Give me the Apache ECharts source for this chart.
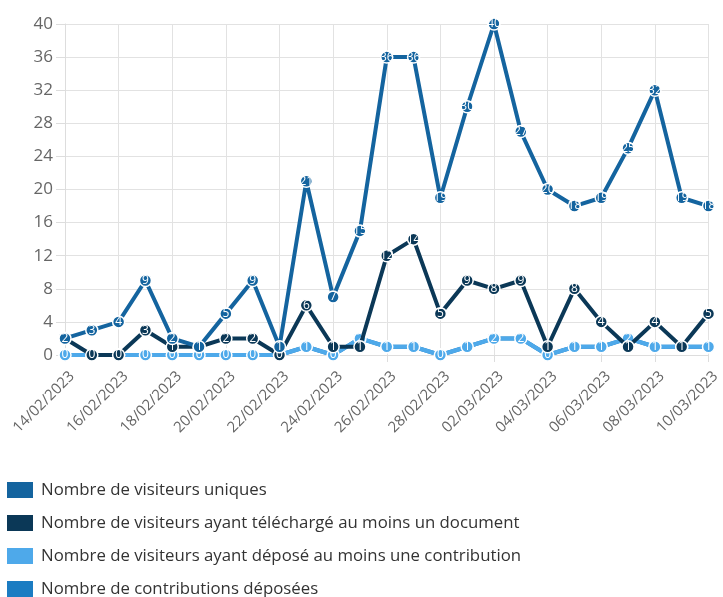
<!DOCTYPE html>
<html>
<head>
<meta charset="utf-8">
<script src="https://cdn.jsdelivr.net/npm/echarts@6/dist/echarts.min.js"></script>
<style>
  html, body { margin: 0; padding: 0; background: #fff; }
  #chart { width: 723px; height: 597px; }
</style>
</head>
<body>
<div id="chart"></div>
<script>
const dates = [
  "14/02/2023", "15/02/2023", "16/02/2023", "17/02/2023", "18/02/2023",
  "19/02/2023", "20/02/2023", "21/02/2023", "22/02/2023", "23/02/2023",
  "24/02/2023", "25/02/2023", "26/02/2023", "27/02/2023", "28/02/2023",
  "01/03/2023", "02/03/2023", "03/03/2023", "04/03/2023", "05/03/2023",
  "06/03/2023", "07/03/2023", "08/03/2023", "09/03/2023", "10/03/2023"
];
const visiteursUniques = [2, 3, 4, 9, 2, 1, 5, 9, 1, 21, 7, 15, 36, 36, 19, 30, 40, 27, 20, 18, 19, 25, 32, 19, 18];
const visiteursTelecharge = [2, 0, 0, 3, 1, 1, 2, 2, 0, 6, 1, 1, 12, 14, 5, 9, 8, 9, 1, 8, 4, 1, 4, 1, 5];
const visiteursDepose = [0, 0, 0, 0, 0, 0, 0, 0, 0, 1, 0, 2, 1, 1, 0, 1, 2, 2, 0, 1, 1, 2, 1, 1, 1];
const contributions = [0, 0, 0, 0, 0, 0, 0, 0, 0, 1, 0, 2, 1, 1, 0, 1, 2, 2, 0, 1, 1, 2, 1, 1, 1];
const yTicks = { min: 0, max: 40, interval: 4 };

const fontFamily = "'Open Sans', 'Noto Sans', sans-serif";

function lineSeries(name, data, color, z) {
  return {
    name: name,
    type: "line",
    data: data,
    z: z,
    symbol: "circle",
    symbolSize: 12,
    showAllSymbol: true,
    lineStyle: { color: color, width: 4 },
    itemStyle: { color: color, borderColor: "#fff", borderWidth: 1.5 },
    label: {
      show: true,
      position: "inside",
      color: "#fff",
      fontSize: 12,
      fontFamily: fontFamily,
    },
    emphasis: { disabled: true },
  };
}

const myChart = echarts.init(document.getElementById("chart"));
const option = {
  animation: false,
  textStyle: { fontFamily: fontFamily },
  grid: {
    left: 65,
    right: 11,
    top: 24,
    bottom: 242,
  },
  legend: {
    orient: "vertical",
    left: 5,
    top: 480,
    height: 140,
    padding: 0,
    icon: "rect",
    itemWidth: 28,
    itemHeight: 18,
    itemGap: 13,
    textStyle: { color: "#333", fontSize: 16.8, lineHeight: 18, fontFamily: fontFamily, padding: [0, 0, 0, 2] },
    data: [
      "Nombre de visiteurs uniques",
      "Nombre de visiteurs ayant téléchargé au moins un document",
      "Nombre de visiteurs ayant déposé au moins une contribution",
      "Nombre de contributions déposées",
    ],
  },
  xAxis: {
    type: "category",
    data: dates,
    boundaryGap: false,
    axisLine: { lineStyle: { color: "#ddd" } },
    axisTick: { show: true, interval: 1, length: 7, lineStyle: { color: "#ddd" } },
    axisLabel: {
      interval: 1,
      rotate: 45,
      color: "#666",
      fontSize: 15,
      margin: 26,
      padding: [0, -10, 0, 0],
    },
    splitLine: { show: true, interval: 1, lineStyle: { color: "#e2e2e2" } },
  },
  yAxis: {
    type: "value",
    min: yTicks.min,
    max: yTicks.max,
    interval: yTicks.interval,
    axisLine: { show: true, lineStyle: { color: "#ddd" } },
    axisTick: { show: true, length: 9, lineStyle: { color: "#ddd" } },
    axisLabel: { color: "#666", fontSize: 17, margin: 12 },
    splitLine: { lineStyle: { color: "#e2e2e2" } },
  },
  series: [
    lineSeries("Nombre de visiteurs uniques", visiteursUniques, "#14649f", 5),
    lineSeries("Nombre de visiteurs ayant téléchargé au moins un document", visiteursTelecharge, "#0b3857", 4),
    lineSeries("Nombre de visiteurs ayant déposé au moins une contribution", visiteursDepose, "#4ea9ea", 3),
    lineSeries("Nombre de contributions déposées", contributions, "#1b7cc2", 2),
  ],
};
myChart.setOption(option);
</script>
</body>
</html>
